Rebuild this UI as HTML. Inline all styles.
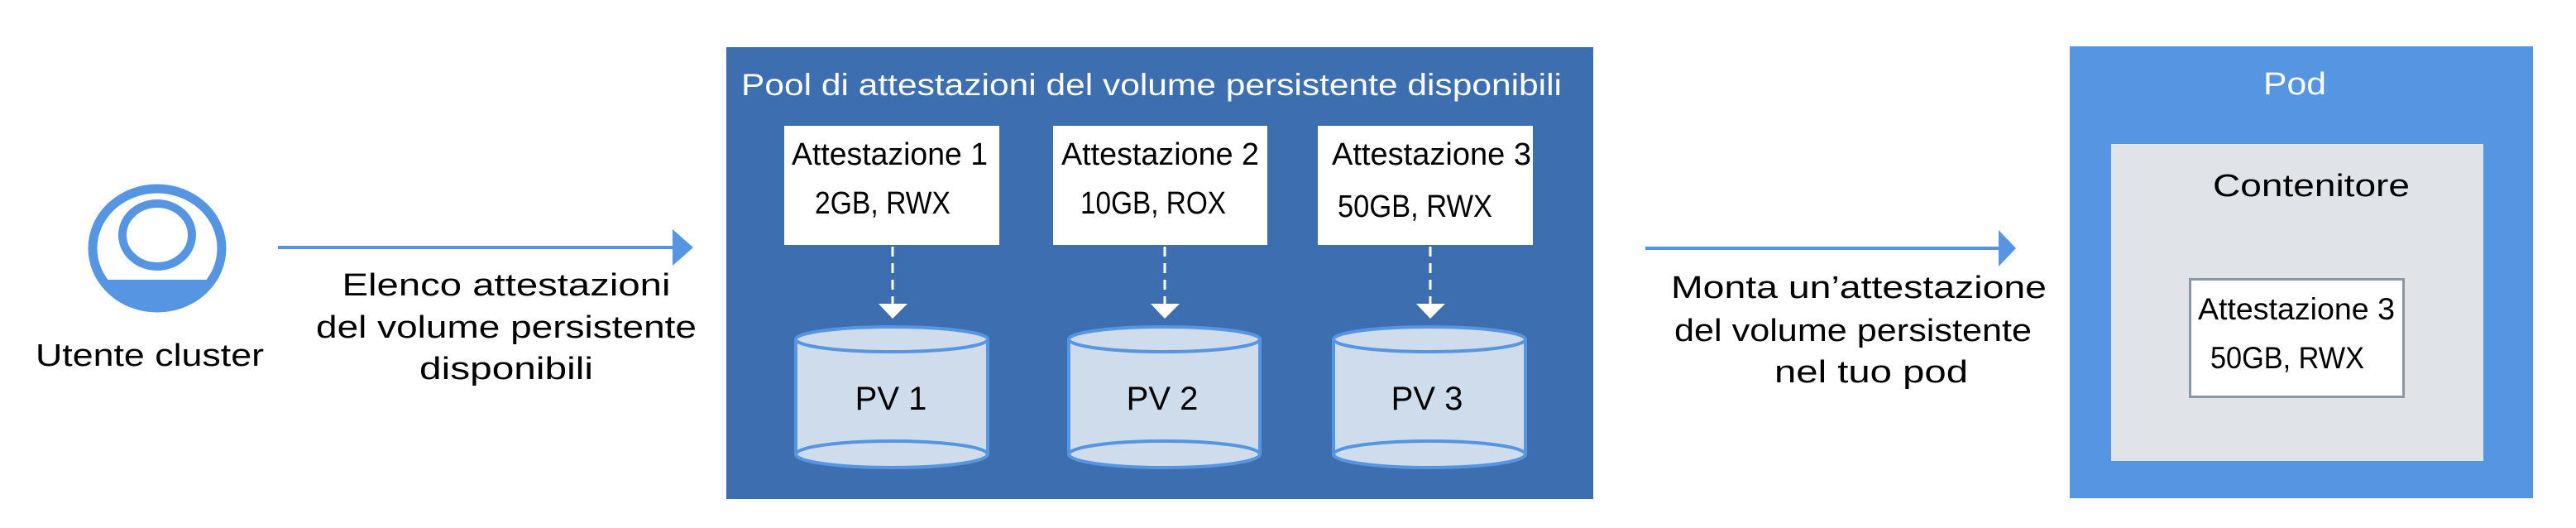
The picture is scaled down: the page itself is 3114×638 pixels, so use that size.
<!DOCTYPE html>
<html><head><meta charset="utf-8"><style>
html,body{margin:0;padding:0;background:#fff;width:3114px;height:638px;overflow:hidden}
text{font-family:"Liberation Sans",sans-serif}
</style></head><body>
<svg width="3114" height="638" viewBox="0 0 3114 638" xmlns="http://www.w3.org/2000/svg">
<defs><clipPath id="oc"><ellipse cx="190" cy="300" rx="78" ry="72"/></clipPath></defs>
<!-- user icon -->
<ellipse cx="190" cy="300" rx="78" ry="72" fill="none" stroke="#5595e2" stroke-width="11"/>
<ellipse cx="190" cy="284" rx="42" ry="38" fill="none" stroke="#5595e2" stroke-width="10"/>
<rect x="100" y="338" width="180" height="60" fill="#5595e2" clip-path="url(#oc)" rx="14"/>
<text x="181" y="442" font-size="38" text-anchor="middle" textLength="276" lengthAdjust="spacingAndGlyphs">Utente cluster</text>
<!-- arrow 1 -->
<line x1="336" y1="299" x2="815" y2="299" stroke="#5595e2" stroke-width="4"/>
<polygon points="813,277 838,299 813,321" fill="#5595e2"/>
<g font-size="38" text-anchor="middle">
<text x="612" y="357" textLength="397" lengthAdjust="spacingAndGlyphs">Elenco attestazioni</text>
<text x="612" y="408" textLength="460" lengthAdjust="spacingAndGlyphs">del volume persistente</text>
<text x="612" y="458" textLength="210" lengthAdjust="spacingAndGlyphs">disponibili</text>
</g>
<!-- pool -->
<rect x="878" y="57" width="1048" height="546" fill="#3d6fb0"/>
<text x="896" y="115" font-size="37" fill="#fff" textLength="992" lengthAdjust="spacingAndGlyphs">Pool di attestazioni del volume persistente disponibili</text>
<g fill="#fff">
<rect x="948" y="152" width="260" height="144"/>
<rect x="1273" y="152" width="259" height="144"/>
<rect x="1593" y="152" width="260" height="144"/>
</g>
<g font-size="38">
<text x="957" y="199" textLength="237" lengthAdjust="spacingAndGlyphs">Attestazione 1</text>
<text x="985" y="258" textLength="164" lengthAdjust="spacingAndGlyphs">2GB, RWX</text>
<text x="1283" y="199" textLength="239" lengthAdjust="spacingAndGlyphs">Attestazione 2</text>
<text x="1306" y="258" textLength="176" lengthAdjust="spacingAndGlyphs">10GB, ROX</text>
<text x="1610" y="199" textLength="241" lengthAdjust="spacingAndGlyphs">Attestazione 3</text>
<text x="1617" y="262" textLength="187" lengthAdjust="spacingAndGlyphs">50GB, RWX</text>
</g>
<g stroke="#fff" stroke-width="3" stroke-dasharray="12,8">
<line x1="1079" y1="298" x2="1079" y2="368"/>
<line x1="1408" y1="298" x2="1408" y2="368"/>
<line x1="1729" y1="298" x2="1729" y2="368"/>
</g>
<g fill="#fff">
<polygon points="1062,367 1097,367 1079,385"/>
<polygon points="1391,367 1426,367 1408,385"/>
<polygon points="1712,367 1747,367 1729,385"/>
</g>
<!-- cylinders -->
<g fill="#cfdcec" stroke="#5595e2" stroke-width="4">
<path d="M962,410 V549 A116,16 0 0 0 1194,549 V410"/>
<ellipse cx="1078" cy="410" rx="116" ry="15"/>
<path d="M962,549 A116,16 0 0 1 1194,549" fill="none"/>
<path d="M1292,410 V549 A115.5,16 0 0 0 1523,549 V410"/>
<ellipse cx="1407.5" cy="410" rx="115.5" ry="15"/>
<path d="M1292,549 A115.5,16 0 0 1 1523,549" fill="none"/>
<path d="M1612,410 V549 A116,16 0 0 0 1844,549 V410"/>
<ellipse cx="1728" cy="410" rx="116" ry="15"/>
<path d="M1612,549 A116,16 0 0 1 1844,549" fill="none"/>
</g>
<g font-size="40" text-anchor="middle">
<text x="1077" y="495">PV 1</text>
<text x="1405" y="495">PV 2</text>
<text x="1725" y="495">PV 3</text>
</g>
<!-- arrow 2 -->
<line x1="1989" y1="300" x2="2418" y2="300" stroke="#5595e2" stroke-width="4"/>
<polygon points="2416,278 2437,300 2416,322" fill="#5595e2"/>
<g font-size="38">
<text x="2020" y="360" textLength="454" lengthAdjust="spacingAndGlyphs">Monta un’attestazione</text>
<text x="2024" y="412" textLength="432" lengthAdjust="spacingAndGlyphs">del volume persistente</text>
<text x="2145" y="462" textLength="234" lengthAdjust="spacingAndGlyphs">nel tuo pod</text>
</g>
<!-- pod -->
<rect x="2502" y="56" width="560" height="546" fill="#5595e2"/>
<text x="2774" y="114" font-size="38" fill="#fff" text-anchor="middle" textLength="76" lengthAdjust="spacingAndGlyphs">Pod</text>
<rect x="2552" y="174" width="450" height="383" fill="#e0e3e7"/>
<text x="2675" y="237" font-size="38" textLength="238" lengthAdjust="spacingAndGlyphs">Contenitore</text>
<rect x="2647.5" y="337.5" width="258" height="142" fill="#fff" stroke="#8a98a5" stroke-width="3"/>
<text x="2657" y="386" font-size="37" textLength="238" lengthAdjust="spacingAndGlyphs">Attestazione 3</text>
<text x="2672" y="445" font-size="37" textLength="186" lengthAdjust="spacingAndGlyphs">50GB, RWX</text>
</svg>
</body></html>
